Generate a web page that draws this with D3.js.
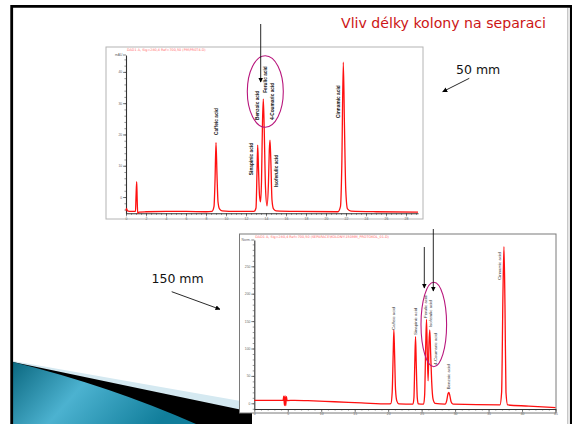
<!DOCTYPE html>
<html>
<head>
<meta charset="utf-8">
<script src="https://cdn.jsdelivr.net/npm/d3@7"></script>
<style>
html, body { margin: 0; padding: 0; background: #fff; }
svg { display: block; font-family: "DejaVu Sans", Verdana, sans-serif; }
</style>
</head>
<body>
<svg id="slide" width="572" height="424"></svg>
<script>
// Slide texts
const titleText = 'Vliv délky kolony na separaci';
const colShort = '50 mm';
const colLong = '150 mm';

// ---- 50 mm column chromatogram: [time (min), signal (mAU)] ----
const header50 = 'DAD1 A, Sig=280,4 Ref=700,50 (PM\\PR0T4.D)';
const trace50 = [
  [0, -4.3], [0.05, -3.6], [0.15, -4.4], [0.5, -4.6], [0.95, -4.6], [1.0, 0], [1.07, 4.9],
  [1.12, -1], [1.17, -5.2], [1.3, -4.8], [2, -4.7], [4, -4.6], [6, -4.6], [8, -4.7],
  [8.6, -4.6], [8.8, -3], [8.9, 5], [9.0, 17.4], [9.1, 7], [9.2, -1.5], [9.35, -3.8], [9.6, -4.4],
  [11, -4.6], [12.8, -4.6], [13.0, -3.5], [13.1, 8], [13.17, 16.6], [13.25, 9], [13.35, 0.5],
  [13.45, -1.5], [13.55, 5], [13.65, 24], [13.73, 31.3], [13.82, 22], [13.95, 3], [14.1, -2.8],
  [14.25, 5], [14.33, 15], [14.4, 18.2], [14.48, 12], [14.6, -1], [14.75, -3.8], [15, -4.4],
  [17, -4.6], [21.2, -4.7], [21.45, -3], [21.58, 10], [21.73, 43.1], [21.85, 22], [21.98, 2],
  [22.15, -3.8], [22.5, -4.5], [25, -4.7], [29.2, -4.8]
];
const ticks50X = [0, 2, 4, 6, 8, 10, 12, 14, 16, 18, 20, 22, 24, 26, 28];
const ticks50Y = [0, 10, 20, 30, 40];
const labels50 = ['Caffeic acid', 'Sinapinic acid', 'Benzoic acid', 'Ferulic acid',
  '4-Coumaric acid', 'Isoferulic acid', 'Cinnamic acid'];
const labelTimes50 = [9.07, 12.57, 13.13, 13.93, 14.6, 15.0, 21.23];
const labelLevels50 = [19.8, 7.0, 24.6, 33.3, 24.6, 3.2, 25.3];

// ---- 150 mm column chromatogram: [time (min), signal (norm.)] ----
const header150 = 'DAD1 A, Sig=280,4 Ref=700,50 (SEPARACE\\KOLONY\\150MM_PROTOKOL_01.D)';
const trace150 = [
  [0, 5.5], [3, 5.3], [4.3, 5.2], [4.4, 13], [4.5, -4], [4.6, 13.5], [4.7, -4.4], [4.8, 12],
  [4.9, 5], [6, 5.5], [8, 4.8], [12, 2.8], [16, 0.8], [20, -1.2], [20.4, -0.5], [20.6, 20],
  [20.75, 90], [20.85, 133.8], [20.95, 95], [21.1, 25], [21.3, 4], [21.6, -1], [23.7, -1.5],
  [23.85, 10], [23.97, 70], [24.09, 121.6], [24.2, 70], [24.35, 10], [24.5, -1], [25.3, -1.5],
  [25.45, 15], [25.6, 100], [25.73, 153], [25.85, 90], [25.97, 41], [26.1, 110], [26.22, 134],
  [26.35, 90], [26.5, 40], [26.7, 8], [27, 0], [28.5, -1.5], [28.75, 5], [28.95, 18],
  [29.06, 20], [29.2, 15], [29.4, 3], [29.7, -1.5], [36.7, -3], [36.95, 20], [37.15, 200],
  [37.3, 285.8], [37.45, 180], [37.6, 20], [37.85, -3], [41, -5], [45, -8]
];
const ticks150X = [0, 5, 10, 15, 20, 25, 30, 35, 40, 45];
const ticks150Y = [0, 50, 100, 150, 200, 250];
const labels150 = ['Caffeic acid', 'Sinapinic acid', 'Ferulic acid', 'Isoferulic acid',
  '4-Coumaric acid', 'Benzoic acid', 'Cinnamic acid'];
const labelTimes150 = [20.85, 24.09, 25.63, 26.33, 27.07, 29.06, 36.67];
const labelLevels150 = [133.8, 124.6, 155.7, 139, 69.9, 25.5, 225];

const svg = d3.select('#slide');
const defs = svg.append('defs');

// arrowhead marker
defs.append('marker')
  .attr('id', 'head')
  .attr('viewBox', '0 0 10 10')
  .attr('refX', 9).attr('refY', 5)
  .attr('markerWidth', 5).attr('markerHeight', 5)
  .attr('markerUnits', 'userSpaceOnUse')
  .attr('orient', 'auto')
  .append('path').attr('d', 'M0,0 L10,5 L0,10 z').attr('fill', '#000');

const grad = defs.append('linearGradient').attr('id', 'teal')
  .attr('x1', '0%').attr('y1', '0%').attr('x2', '100%').attr('y2', '30%');
grad.append('stop').attr('offset', '0%').attr('stop-color', '#0b6880');
grad.append('stop').attr('offset', '45%').attr('stop-color', '#4cb2d0');
grad.append('stop').attr('offset', '100%').attr('stop-color', '#117e9b');

// Slide background & decoration
svg.append('rect').attr('width', 572).attr('height', 424).attr('fill', '#fff');
svg.append('path').attr('d', 'M13,361 L252,403 L252,424 L13,424 Z').attr('fill', '#d5e9f1');
svg.append('path').attr('d', 'M13,362 L252,412 L252,424 L13,424 Z').attr('fill', '#000');
svg.append('path').attr('d', 'M13,362 Q110,386 196,424 L13,424 Z').attr('fill', 'url(#teal)');

// slide frame
svg.append('path').attr('d', 'M11.7,424 L11.7,6.3 L571.3,6.3 L571.3,424')
  .attr('fill', 'none').attr('stroke', '#000').attr('stroke-width', 2.8);
svg.append('line').attr('x1', 567.8).attr('x2', 567.8).attr('y1', 8).attr('y2', 424)
  .attr('stroke', '#9a9a9a').attr('stroke-width', 0.8);

// Title
svg.append('text')
  .attr('x', 341).attr('y', 28)
  .attr('font-size', 13.8)
  .attr('textLength', 205)
  .attr('lengthAdjust', 'spacingAndGlyphs')
  .attr('fill', '#cc1515')
  .text(titleText);

function drawPanel(cfg) {
  const g = svg.append('g');
  g.append('rect')
    .attr('x', cfg.box[0]).attr('y', cfg.box[1])
    .attr('width', cfg.box[2]).attr('height', cfg.box[3])
    .attr('fill', '#fff').attr('stroke', cfg.boxStroke).attr('stroke-width', 1);

  const x = d3.scaleLinear().domain(cfg.xDomain).range([cfg.left, cfg.right]);
  const y = d3.scaleLinear().domain(cfg.yDomain).range([cfg.bottom, cfg.top]);

  // header line of the data file
  g.append('text')
    .attr('x', cfg.left + 1).attr('y', cfg.box[1] + 3.6)
    .attr('font-size', 3.4).attr('fill', '#ff6a6a')
    .text(cfg.header);

  // minor ticks
  const minorX = d3.range(cfg.xDomain[0], cfg.xDomain[1] + 0.001, cfg.minorX);
  const minorY = d3.range(Math.ceil(cfg.yDomain[0] / cfg.minorY) * cfg.minorY, cfg.yDomain[1], cfg.minorY);
  g.append('g').attr('transform', `translate(0,${cfg.bottom})`)
    .call(d3.axisBottom(x).tickValues(minorX).tickSize(1.6).tickSizeOuter(0).tickFormat(''))
    .call(a => a.select('.domain').remove())
    .call(a => a.selectAll('line').attr('stroke', '#333').attr('stroke-width', 0.5));
  g.append('g').attr('transform', `translate(${cfg.left},0)`)
    .call(d3.axisLeft(y).tickValues(minorY).tickSize(1.6).tickSizeOuter(0).tickFormat(''))
    .call(a => a.select('.domain').remove())
    .call(a => a.selectAll('line').attr('stroke', '#333').attr('stroke-width', 0.5));

  // major axes
  g.append('g').attr('transform', `translate(0,${cfg.bottom})`)
    .call(d3.axisBottom(x).tickValues(cfg.ticksX).tickSize(3).tickSizeOuter(0).tickPadding(0.8))
    .call(a => a.select('.domain').attr('stroke', '#333').attr('stroke-width', 1.1))
    .call(a => a.selectAll('line').attr('stroke', '#333').attr('stroke-width', 0.6))
    .call(a => a.selectAll('text').attr('font-size', 3.4).attr('fill', '#666').attr('font-family', 'Liberation Sans, sans-serif'));
  g.append('g').attr('transform', `translate(${cfg.left},0)`)
    .call(d3.axisLeft(y).tickValues(cfg.ticksY).tickSize(3).tickSizeOuter(0).tickPadding(0.8))
    .call(a => a.select('.domain').attr('stroke', '#333').attr('stroke-width', 1.1))
    .call(a => a.selectAll('line').attr('stroke', '#333').attr('stroke-width', 0.6))
    .call(a => a.selectAll('text').attr('font-size', 3.4).attr('fill', '#666').attr('font-family', 'Liberation Sans, sans-serif'));
  g.append('line')
    .attr('x1', cfg.left - 3).attr('x2', cfg.left)
    .attr('y1', cfg.top).attr('y2', cfg.top)
    .attr('stroke', '#333').attr('stroke-width', 0.6);
  g.append('text')
    .attr('x', cfg.left - 3.5).attr('y', cfg.top + 1.2)
    .attr('text-anchor', 'end').attr('font-size', 3.4).attr('fill', '#666')
    .attr('font-family', 'Liberation Sans, sans-serif')
    .text(cfg.unit);

  // signal trace
  const line = d3.line()
    .x(d => x(d[0]))
    .y(d => y(d[1]))
    .curve(d3.curveMonotoneX);
  g.append('path')
    .datum(cfg.trace)
    .attr('d', line)
    .attr('fill', 'none')
    .attr('stroke', '#ff1010')
    .attr('stroke-width', 1.3)
    .attr('stroke-linejoin', 'round');

  // peak names
  const fs = cfg.labelSize;
  g.selectAll('.peak')
    .data(cfg.labels)
    .enter()
    .append('text')
    .attr('class', 'peak')
    .attr('transform', (d, i) => `translate(${x(cfg.labelTimes[i]) + fs * 0.36},${y(cfg.labelLevels[i])}) rotate(-90)`)
    .attr('font-size', fs)
    .attr('font-family', 'Liberation Sans, Arial, sans-serif')
    .attr('font-weight', cfg.labelWeight)
    .attr('fill', cfg.labelColor)
    .text(d => d);

  return { x, y, g };
}

// 50 mm column
drawPanel({
  box: [106, 47, 317, 172], boxStroke: '#b4b4b4',
  left: 126, right: 418, top: 55, bottom: 213.3,
  xDomain: [0, 29.2], yDomain: [-5.2, 45.4],
  ticksX: ticks50X, ticksY: ticks50Y, minorX: 0.5, minorY: 2,
  unit: 'mAU', header: header50, trace: trace50,
  labels: labels50, labelTimes: labelTimes50, labelLevels: labelLevels50,
  labelSize: 4.8, labelWeight: 'bold', labelColor: '#111'
});

// 150 mm column
drawPanel({
  box: [239.5, 234, 316.5, 179], boxStroke: '#7a7a7a',
  left: 254.3, right: 555.5, top: 240, bottom: 409,
  xDomain: [0, 45], yDomain: [-10.4, 298],
  ticksX: ticks150X, ticksY: ticks150Y, minorX: 1, minorY: 10,
  unit: 'Norm.', header: header150, trace: trace150,
  labels: labels150, labelTimes: labelTimes150, labelLevels: labelLevels150,
  labelSize: 4.4, labelWeight: 'normal', labelColor: '#333'
});

// annotations: ellipses and arrows
svg.append('ellipse')
  .attr('cx', 265.3).attr('cy', 91.5).attr('rx', 18).attr('ry', 35.8)
  .attr('fill', 'none').attr('stroke', '#b8167c').attr('stroke-width', 1.1);
svg.append('ellipse')
  .attr('cx', 433.8).attr('cy', 324.5).attr('rx', 12.8).attr('ry', 42.2)
  .attr('fill', 'none').attr('stroke', '#b8167c').attr('stroke-width', 1.1);

const arrows = [
  [260.7, 24, 260.7, 82],
  [424.3, 247, 424.3, 288],
  [433.3, 229, 433.3, 291],
  [469.3, 78.3, 442.7, 91.7],
  [171.7, 291.7, 220, 309.3]
];
svg.selectAll('.arrow')
  .data(arrows)
  .enter()
  .append('line')
  .attr('class', 'arrow')
  .attr('x1', d => d[0]).attr('y1', d => d[1])
  .attr('x2', d => d[2]).attr('y2', d => d[3])
  .attr('stroke', '#111').attr('stroke-width', 0.9)
  .attr('marker-end', 'url(#head)');

svg.append('text')
  .attr('x', 456).attr('y', 74)
  .attr('font-size', 12.5).attr('fill', '#111')
  .text(colShort);
svg.append('text')
  .attr('x', 151.5).attr('y', 283.3)
  .attr('font-size', 12.5).attr('fill', '#111')
  .text(colLong);
</script>
</body>
</html>
